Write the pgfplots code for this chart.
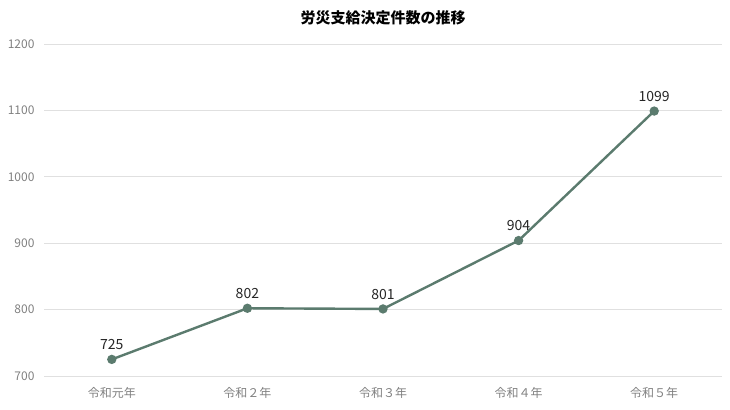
\documentclass[border=0pt]{standalone}
\usepackage{fontspec}
\setmainfont{Noto Sans CJK JP}
\usepackage{pgfplots}
\pgfplotsset{compat=1.18}
\definecolor{linegreen}{HTML}{5B7B6E}
\definecolor{gridgrey}{HTML}{E0E0E0}
\definecolor{ticktext}{HTML}{808080}
\begin{document}
\begin{tikzpicture}
\begin{axis}[
    scale only axis,
    width=678bp, height=332bp,
    xmin=-0.5, xmax=4.5,
    ymin=700, ymax=1200,
    ytick={700,800,...,1200},
    xtick=data,
    xticklabels={令和元年, 令和２年, 令和３年, 令和４年, 令和５年},
    axis line style={draw=none},
    major tick length=0pt,
    ymajorgrids,
    grid style={gridgrey, line width=0.8bp},
    tick label style={font=\fontsize{12bp}{14bp}\selectfont, text=ticktext},
    /pgf/number format/assume math mode=true,
    /pgf/number format/set thousands separator={},
    yticklabel style={xshift=-6bp},
    xticklabel style={yshift=-8bp},
    nodes near coords,
    every node near coord/.append style={font=\fontsize{14bp}{16bp}\selectfont, text=black!85, yshift=5bp},
    clip=false,
]
\addplot[color=linegreen, line width=2.4bp, mark=*, mark size=3.4bp,
    mark options={fill=linegreen, draw=linegreen}] coordinates {
    (0,725) (1,802) (2,801) (3,904) (4,1099)
};
\end{axis}
\node[font=\bfseries\fontsize{15bp}{17bp}\selectfont] at ([yshift=26bp]current axis.north) {労災支給決定件数の推移};
\pgfresetboundingbox
\path[use as bounding box] ([shift={(-44bp,-34bp)}]current axis.south west) rectangle ([shift={(8bp,44bp)}]current axis.north east);
\end{tikzpicture}
\end{document}
